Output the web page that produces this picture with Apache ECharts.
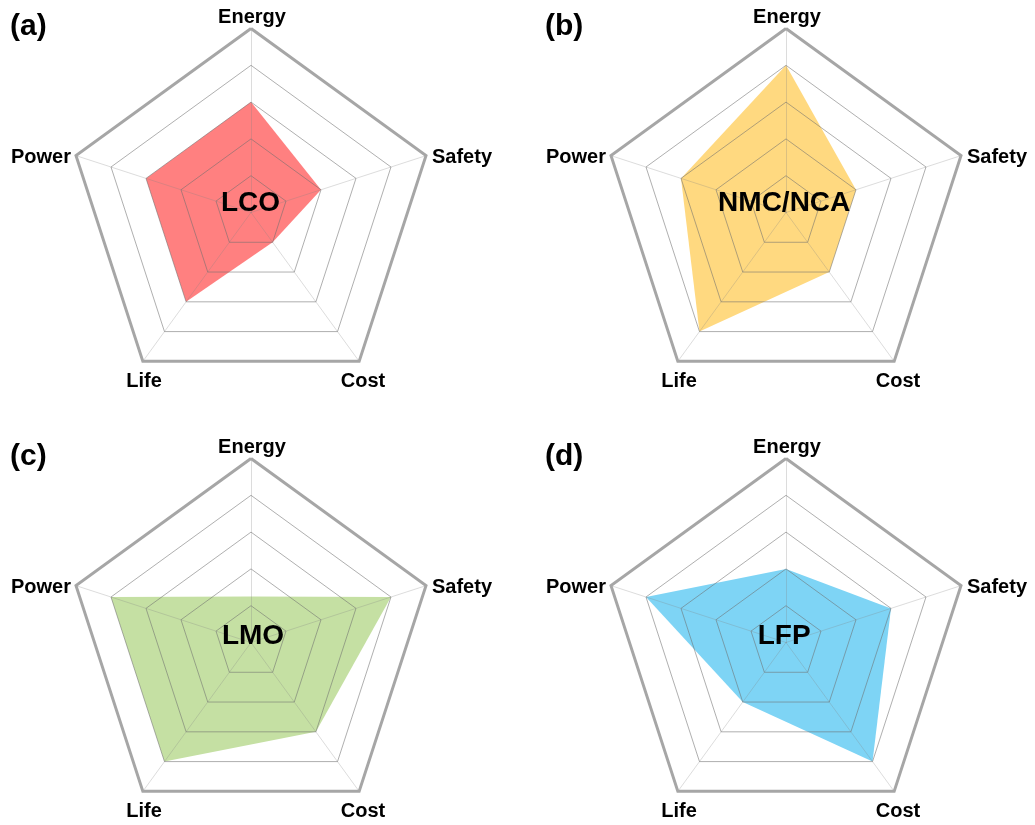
<!DOCTYPE html>
<html><head><meta charset="utf-8">
<script src="https://cdn.jsdelivr.net/npm/echarts@6/dist/echarts.min.js"></script>
<style>html,body{margin:0;padding:0;background:#fff}#c{width:1035px;height:825px}</style>
</head><body><div id="c"></div>
<script>
// Indicators in ECharts order (counterclockwise from the top)
const indicators = ['Energy', 'Power', 'Life', 'Cost', 'Safety'];
const maxLevel = 5;
const materials = ['LCO', 'NMC/NCA', 'LMO', 'LFP'];
const panelTags = ['(a)', '(b)', '(c)', '(d)'];
const lcoValues = [3, 3, 3, 1, 2];
const nmcValues = [4, 3, 4, 2, 2];
const lmoValues = [1.25, 4, 4, 3, 4];
const lfpValues = [2, 4, 2, 4, 3];

const seriesValues = [lcoValues, nmcValues, lmoValues, lfpValues];
const fillColors = ['#FF8080', '#FFD980', '#C5E0A3', '#7ED4F5'];
const panelOffsets = [[0, 0], [535, 0], [0, 430], [535, 430]];
const baseCenter = [251, 212.5];
const radius = 184;
const FONT = "'Liberation Sans', Arial, sans-serif";
const nameLayout = {
  Energy: { x: 252, y: 17.5, align: 'center' },
  Power: { x: 71, y: 157.7, align: 'right' },
  Safety: { x: 432, y: 157.5, align: 'left' },
  Life: { x: 144, y: 381, align: 'center' },
  Cost: { x: 363, y: 381, align: 'center' }
};
const centerLabelPos = [[250.5, 203.3], [784.2, 203.3], [253, 636.3], [784.2, 636.3]];

const radar = [], series = [], graphic = [];
panelOffsets.forEach((off, i) => {
  const center = [baseCenter[0] + off[0], baseCenter[1] + off[1]];
  const ind = indicators.map(n => ({ name: n, min: 0, max: maxLevel }));
  radar.push({
    center, radius, startAngle: 90, shape: 'polygon', splitNumber: 5, z: 3,
    indicator: ind,
    axisName: { show: false },
    axisLine: { show: true, lineStyle: { color: 'rgba(128,128,128,0.28)', width: 1 } },
    splitLine: { show: true, lineStyle: { color: 'rgba(110,110,110,0.55)', width: 1 } },
    splitArea: { show: false }, axisTick: { show: false }, axisLabel: { show: false }
  });
  radar.push({
    center, radius, startAngle: 90, shape: 'polygon', splitNumber: 1, z: 4,
    indicator: ind,
    axisName: { show: false },
    axisLine: { show: false },
    splitLine: { show: true, lineStyle: { color: '#a6a6a6', width: 3 } },
    splitArea: { show: false }, axisTick: { show: false }, axisLabel: { show: false }
  });
  series.push({
    type: 'radar', radarIndex: 2 * i, z: 2, symbol: 'none', silent: true,
    lineStyle: { width: 0, opacity: 0 },
    areaStyle: { color: fillColors[i], opacity: 1 },
    data: [{ value: seriesValues[i], name: materials[i] }]
  });
  indicators.forEach(n => {
    const L = nameLayout[n];
    graphic.push({
      type: 'text', x: L.x + off[0], y: L.y + off[1], z: 10,
      style: { text: n, fill: '#000', fontSize: 20, fontWeight: 'bold', fontFamily: FONT,
        align: L.align, verticalAlign: 'middle' }
    });
  });
  graphic.push({
    type: 'text', x: centerLabelPos[i][0], y: centerLabelPos[i][1], z: 10,
    style: { text: materials[i], fill: '#000', fontSize: 28, fontWeight: 'bold', fontFamily: FONT,
      align: 'center', verticalAlign: 'middle' }
  });
  graphic.push({
    type: 'text', x: 10 + off[0], y: 27 + off[1], z: 10,
    style: { text: panelTags[i], fill: '#000', fontSize: 30, fontWeight: 'bold', fontFamily: FONT,
      align: 'left', verticalAlign: 'middle' }
  });
});

const chart = echarts.init(document.getElementById('c'), null, { renderer: 'canvas' });
chart.setOption({ animation: false, backgroundColor: '#fff', radar, series, graphic });
</script></body></html>
